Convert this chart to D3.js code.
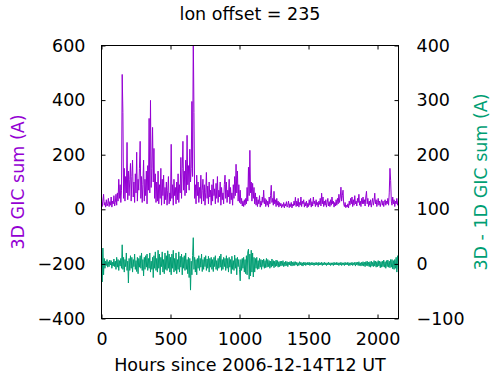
<!DOCTYPE html>
<html>
<head>
<meta charset="utf-8">
<script src="https://cdn.jsdelivr.net/npm/d3@7"></script>
<style>
  body { margin: 0; background: #fff; }
  text { font-family: "DejaVu Sans", sans-serif; font-size: 17.5px; fill: #000; }
</style>
</head>
<body>
<script>
// one sample every 5 hours from hour 0, each row = 100 hours
const stepHours = 5;

// 3D GIC sum (A), left axis
const gic3d = [
  45, 10, 30, 55, 15, 25, 8, 35, 12, 20, 40, 10, 28, 15, 45, 8, 30, 20, 50, 12,
  25, 55, 15, 60, 30, 110, 40, 90, 25, 70, 494, 355, 40, 150, 30, 120, 60, 245, 35, 140,
  50, 110, 168, 30, 120, 180, 45, 100, 25, 130, 60, 209, 30, 110, 70, 150, 249, 40, 120, 25,
  90, 180, 30, 110, 50, 140, 20, 160, 70, 333, 60, 399, 80, 150, 300, 100, 223, 40, 130, 25,
  100, 30, 140, 20, 90, 40, 150, 15, 110, 50, 125, 20, 80, 35, 100, 15, 70, 120, 20, 60,
  30, 238, 40, 90, 15, 110, 50, 80, 20, 100, 35, 130, 25, 90, 60, 190, 40, 150, 249, 70,
  140, 50, 180, 60, 271, 90, 160, 70, 220, 100, 150, 395, 120, 640, 355, 40, 90, 20, 125, 50,
  100, 25, 80, 40, 125, 20, 70, 110, 30, 90, 15, 60, 135, 40, 85, 20, 100, 45, 70, 15,
  90, 30, 110, 50, 75, 20, 95, 40, 120, 25, 70, 45, 100, 15, 80, 35, 60, 20, 90, 125,
  40, 100, 25, 70, 45, 110, 20, 80, 35, 60, 15, 90, 40, 120, 50, 165, 60, 140, 30, 90,
  25, 70, 20, 40, 12, 30, 10, 35, 15, 40, 20, 80, 30, 154, 50, 216, 60, 100, 30, 95,
  40, 80, 20, 60, 15, 45, 10, 35, 20, 50, 8, 30, 15, 45, 25, 70, 20, 40, 10, 35,
  15, 30, 8, 45, 20, 50, 88, 25, 40, 15, 66, 20, 35, 10, 40, 15, 30, 8, 25, 12,
  22, 6, 18, 10, 25, 5, 20, 12, 28, 8, 15, 30, 6, 20, 10, 25, 5, 18, 12, 30,
  15, 44, 10, 30, 12, 40, 8, 25, 15, 45, 10, 30, 20, 35, 8, 25, 12, 30, 6, 22,
  10, 35, 15, 40, 8, 28, 12, 45, 20, 30, 10, 35, 15, 25, 8, 30, 18, 40, 12, 59,
  20, 45, 10, 30, 15, 35, 8, 25, 40, 12, 28, 10, 35, 15, 45, 20, 30, 8, 25, 12,
  35, 15, 40, 20, 55, 25, 45, 81, 30, 50, 70, 20, 10, 25, 6, 15, 8, 20, 5, 30,
  15, 40, 20, 45, 10, 35, 15, 50, 20, 30, 12, 40, 25, 55, 15, 30, 10, 40, 20, 45,
  20, 35, 12, 45, 66, 20, 40, 10, 30, 15, 35, 8, 25, 40, 15, 30, 59, 20, 35, 10,
  25, 40, 15, 30, 10, 25, 35, 15, 30, 10, 25, 35, 15, 30, 20, 40, 15, 60, 150, 106,
  30, 15, 45, 20, 35, 10, 30, 20, 40, 15, 30
];

// 3D - 1D GIC sum (A), right axis
const gicDiff = [
  25, -33, 29, -20, 10, -8, 5, -3, 8, -6, 4, -5, 7, -2, 6, -8, 3, -4, 9, -5,
  5, -10, 12, -6, 8, -12, 6, -4, 10, -8, 35, -10, 12, -15, 8, -5, 20, -12, 5, -35,
  10, -12, 15, -8, 12, -15, 8, -5, 18, -10, 6, -14, 12, -18, 10, -6, 15, -8, 20, -12,
  8, -22, 12, -10, 15, -6, 18, -12, 10, -8, 20, -15, 5, -10, 12, -25, 15, -8, 22, -12,
  10, -15, 25, -8, 18, -20, 12, -5, 22, -15, 8, -18, 20, -10, 15, -12, 24, -8, 18, -15,
  12, -20, 18, -8, 25, -15, 10, -12, 20, -18, 8, -10, 22, -15, 14, -6, 18, -20, 12, -8,
  15, -12, 20, -10, 8, -18, 12, -25, 10, -48, 5, -20, 15, 48, -10, 12, -15, 8, -20, 10,
  -8, 15, -12, 10, -6, 18, -14, 8, -10, 12, -5, 15, -12, 9, -8, 14, -15, 10, -6, 12,
  -10, 8, -14, 12, -5, 15, -10, 6, -12, 10, -8, 14, -6, 18, -12, 8, -10, 12, -5, 10,
  -12, 15, -8, 10, -15, 12, -6, 8, -18, 14, -10, 6, -12, 16, -8, 10, -20, 12, -5, 8,
  -10, -31, 8, -12, 10, -8, 12, -15, 8, -18, 15, -20, 22, 27, -28, 18, -22, 25, -15, 20,
  -24, 12, -15, 10, -8, 12, -10, 6, -9, 10, -6, 8, -10, 7, -5, 9, -8, 6, -7, 10,
  -6, 8, -5, 6, -8, 5, -6, 9, -4, 6, -7, 5, -5, 7, -4, 6, -6, 4, -5, 5,
  -4, 5, -3, 6, -5, 3, -4, 5, -3, 4, -5, 3, -2, 4, -3, 5, -4, 3, -3, 4,
  -3, 4, -2, 3, -4, 2, -3, 4, -2, 3, -3, 2, -4, 3, -2, 3, -3, 2, -2, 3,
  -2, 3, -3, 2, -2, 3, -2, 2, -3, 2, -2, 3, -2, 2, -3, 3, -2, 2, -2, 3,
  -3, 2, -2, 3, -2, 2, -3, 2, -2, 3, -2, 2, -3, 2, -2, 2, -3, 3, -2, 2,
  -2, 3, -2, 2, -3, 2, -2, 3, -3, 2, -2, 2, -3, 3, -2, 2, -2, 3, -3, 2,
  -3, 2, -2, 3, -3, 2, -2, 3, -4, 3, -2, 3, -3, 4, -3, 2, -4, 3, -3, 4,
  -4, 3, -5, 4, -3, 5, -4, 3, -5, 4, -6, 5, -4, 3, -5, 6, -4, 5, -6, 4,
  -5, 6, -4, 5, -7, 4, -6, 5, -5, 7, -6, 4, -8, 6, -5, 7, -6, 5, -7, 8,
  -6, 8, -9, 6, -10, 8, -8, 12, -15, 15, -10
];

const xTicks = [0, 500, 1000, 1500, 2000];
const yTicks = [-400, -200, 0, 200, 400, 600];
const y2Ticks = [-100, 0, 100, 200, 300, 400];

const width = 491, height = 375;
const plot = {left: 101.5, right: 398.5, top: 45.5, bottom: 318.5};
const purple = "#9400d3", green = "#009e73";

const xScale = d3.scaleLinear().domain([0, 2152]).range([plot.left, plot.right]);
const yScale = d3.scaleLinear().domain([-400, 600]).range([plot.bottom, plot.top]);
const y2Scale = d3.scaleLinear().domain([-100, 400]).range([plot.bottom, plot.top]);

const svg = d3.select("body")
  .append("svg")
  .attr("width", width)
  .attr("height", height);

svg.append("clipPath")
  .attr("id", "clip")
  .append("rect")
  .attr("x", plot.left)
  .attr("y", plot.top)
  .attr("width", plot.right - plot.left)
  .attr("height", plot.bottom - plot.top);

const line3d = d3.line()
  .x((d, i) => xScale(i * stepHours))
  .y((d) => yScale(d));

const lineDiff = d3.line()
  .x((d, i) => xScale(i * stepHours))
  .y((d) => y2Scale(d));

svg.append("path")
  .datum(gic3d)
  .attr("clip-path", "url(#clip)")
  .attr("fill", "none")
  .attr("stroke", purple)
  .attr("stroke-width", 1)
  .attr("d", line3d);

svg.append("path")
  .datum(gicDiff)
  .attr("clip-path", "url(#clip)")
  .attr("fill", "none")
  .attr("stroke", green)
  .attr("stroke-width", 1)
  .attr("d", lineDiff);

// ticks point inward, x ticks mirrored on top
const tickLen = 4;

svg.append("g")
  .attr("transform", "translate(0," + plot.bottom + ")")
  .call(d3.axisBottom(xScale).tickValues(xTicks).tickSize(-tickLen).tickPadding(14).tickFormat(d3.format("d")))
  .call((g) => g.select(".domain").remove());

svg.append("g")
  .attr("transform", "translate(0," + plot.top + ")")
  .call(d3.axisTop(xScale).tickValues(xTicks).tickSize(-tickLen).tickFormat(""))
  .call((g) => g.select(".domain").remove());

svg.append("g")
  .attr("transform", "translate(" + plot.left + ",0)")
  .call(d3.axisLeft(yScale).tickValues(yTicks).tickSize(-tickLen).tickPadding(16))
  .call((g) => g.select(".domain").remove());

svg.append("g")
  .attr("transform", "translate(" + plot.right + ",0)")
  .call(d3.axisRight(y2Scale).tickValues(y2Ticks).tickSize(-tickLen).tickPadding(18))
  .call((g) => g.select(".domain").remove());

svg.selectAll(".tick text")
  .attr("font-family", "DejaVu Sans")
  .attr("font-size", "17.5px")
  .attr("fill", "#000");

svg.selectAll(".tick line")
  .attr("stroke", "#000");

svg.append("rect")
  .attr("x", plot.left)
  .attr("y", plot.top)
  .attr("width", plot.right - plot.left)
  .attr("height", plot.bottom - plot.top)
  .attr("fill", "none")
  .attr("stroke", "#000")
  .attr("stroke-width", 1);

svg.append("text")
  .attr("x", (plot.left + plot.right) / 2)
  .attr("y", 20)
  .style("text-anchor", "middle")
  .text("lon offset = 235");

svg.append("text")
  .attr("x", (plot.left + plot.right) / 2)
  .attr("y", 371)
  .style("text-anchor", "middle")
  .text("Hours since 2006-12-14T12 UT");

svg.append("text")
  .attr("transform", "translate(24," + ((plot.top + plot.bottom) / 2) + ") rotate(-90)")
  .style("text-anchor", "middle")
  .style("fill", purple)
  .text("3D GIC sum (A)");

svg.append("text")
  .attr("transform", "translate(487," + ((plot.top + plot.bottom) / 2) + ") rotate(-90)")
  .style("text-anchor", "middle")
  .style("fill", green)
  .text("3D - 1D GIC sum (A)");
</script>
</body>
</html>
